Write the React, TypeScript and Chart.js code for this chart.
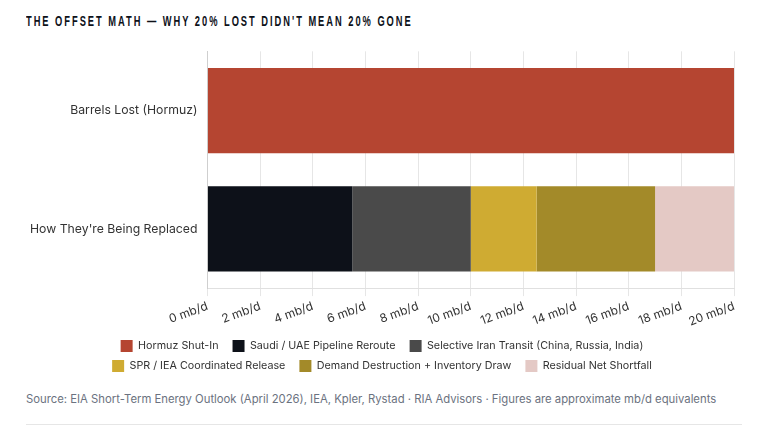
import React, { useEffect, useRef } from "react";
import { Chart, registerables } from "chart.js";

Chart.register(...registerables);

const categories = ["Barrels Lost (Hormuz)", "How They're Being Replaced"];
const seriesNames = [
  "Hormuz Shut-In",
  "Saudi / UAE Pipeline Reroute",
  "Selective Iran Transit (China, Russia, India)",
  "SPR / IEA Coordinated Release",
  "Demand Destruction + Inventory Draw",
  "Residual Net Shortfall",
];
const hormuz = [20, null];
const saudi = [null, 5.5];
const iran = [null, 4.5];
const spr = [null, 2.5];
const demand = [null, 4.5];
const residual = [null, 3];
const colors = ["#b54531", "#0d1119", "#4a4a4a", "#cfab32", "#a38a29", "#e4c9c5"];
const allValues = [hormuz, saudi, iran, spr, demand, residual];
const FONT = "Inter, Lato, sans-serif";

export default function App() {
  const ref = useRef<HTMLCanvasElement>(null);
  useEffect(() => {
    document.body.style.margin = "0";
    document.body.style.background = "#fff";
    const chart = new Chart(ref.current!, {
      type: "bar",
      data: {
        labels: categories,
        datasets: seriesNames.map((label, i) => ({
          label,
          data: allValues[i],
          backgroundColor: colors[i],
          borderWidth: 0,
        })),
      },
      options: {
        indexAxis: "y",
        animation: false,
        responsive: false,
        maintainAspectRatio: false,
        layout: { padding: { left: 2, right: 0 } },
        scales: {
          x: {
            stacked: true,
            min: 0,
            max: 20,
            ticks: {
              stepSize: 2,
              autoSkip: false,
              padding: 3,
              color: "#333333",
              font: { family: FONT, size: 12 },
              maxRotation: 20,
              minRotation: 20,
              callback: (v: any) => `${v} mb/d`,
            },
            grid: { color: "#e6e6e6" },
            border: { color: "#e0e0e0" },
          },
          y: {
            stacked: true,
            ticks: { color: "#333333", font: { family: FONT, size: 12.25 }, padding: 2 },
            grid: { display: false },
            border: { color: "#cfcfcf" },
          },
        },
        plugins: {
          title: { display: false },
          tooltip: { enabled: false },
          legend: {
            position: "bottom",
            labels: {
              color: "#333333",
              font: { family: FONT, size: 10.75 },
              boxWidth: 12,
              boxHeight: 12,
              padding: 8,
              generateLabels: (c: any) =>
                Chart.defaults.plugins.legend.labels
                  .generateLabels(c)
                  .map((item: any) => ({ ...item, text: item.text + "  " })),
            },
          },
        },
      },
    });
    return () => chart.destroy();
  }, []);
  return (
    <div style={{ position: "relative", width: 760, height: 431, overflow: "hidden" }}>
      <div
        style={{
          position: "absolute", left: 26, top: 12, whiteSpace: "nowrap",
          fontFamily: "'Liberation Sans', sans-serif",
          fontWeight: 700, fontSize: 15, letterSpacing: 3.2, color: "#0d1119",
          transform: "scaleX(0.62)", transformOrigin: "left top",
        }}
      >
        THE OFFSET MATH — WHY 20% LOST DIDN'T MEAN 20% GONE
      </div>
      <canvas ref={ref} width={716} height={340} style={{ position: "absolute", left: 26, top: 42, width: 716, height: 340 }} />
      <div
        style={{
          position: "absolute", left: 26, top: 392, whiteSpace: "nowrap",
          fontFamily: FONT, fontSize: 11.3, color: "#6b7280",
        }}
      >
        Source: EIA Short-Term Energy Outlook (April 2026), IEA, Kpler, Rystad · RIA Advisors · Figures are approximate mb/d equivalents
      </div>
      <div style={{ position: "absolute", left: 26, top: 424, width: 716, height: 1, background: "#e6e6e6" }} />
    </div>
  );
}
